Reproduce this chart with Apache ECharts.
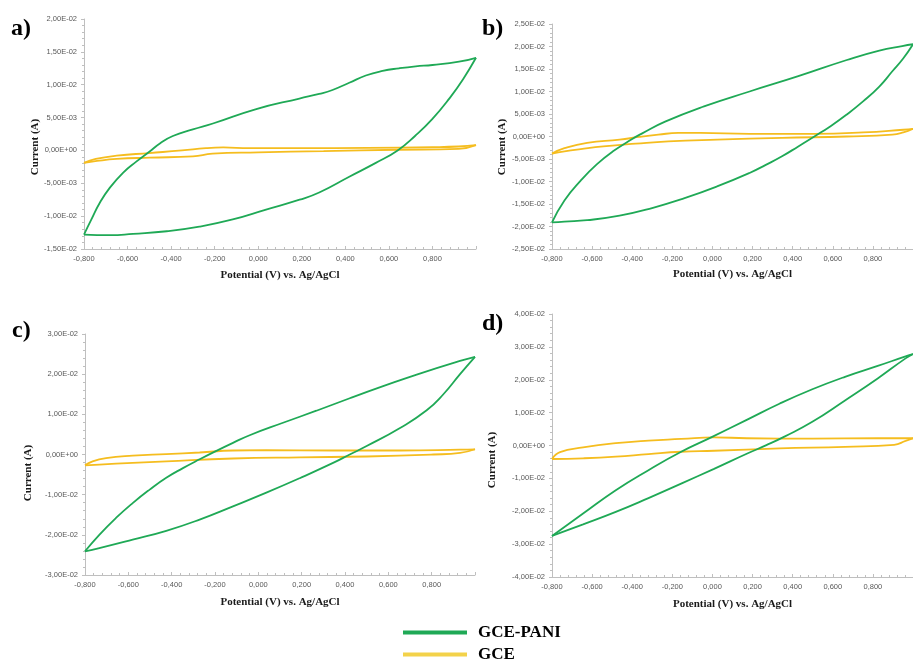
<!DOCTYPE html>
<html>
<head>
<meta charset="utf-8">
<script src="https://cdn.jsdelivr.net/npm/echarts@6/dist/echarts.min.js"></script>
<style>
html,body{margin:0;padding:0;background:#fff;}
#chart{width:913px;height:662px;}
</style>
</head>
<body>
<div id="chart"></div>
<script>
// ---------- DATA: [potential (V), current (A)] ----------
// Panel a)
const aPaniFwd = [[-0.8,-0.0128],[-0.766,-0.0105],[-0.728,-0.0080],[-0.682,-0.0057],[-0.621,-0.0034],[-0.56,-0.0017],[-0.5,-0.0002],[-0.45,0.0011],[-0.392,0.0022],[-0.3,0.0032],[-0.208,0.0041],[-0.009,0.0063],[0.189,0.0079],[0.28,0.0086],[0.341,0.0092],[0.418,0.0103],[0.494,0.0114],[0.571,0.0121],[0.647,0.0125],[0.723,0.0128],[0.8,0.0130],[0.922,0.0135],[1.0,0.0141]];
const aPaniRev = [[-0.8,-0.0128],[-0.68,-0.0129],[-0.575,-0.0127],[-0.42,-0.0123],[-0.27,-0.0116],[-0.117,-0.0105],[0.036,-0.0090],[0.19,-0.0075],[0.28,-0.0064],[0.418,-0.0040],[0.54,-0.0019],[0.64,0.0],[0.72,0.0022],[0.8,0.0048],[0.88,0.0080],[0.94,0.0108],[1.0,0.0141]];
const aGceFwd = [[-0.8,-0.0019],[-0.746,-0.0013],[-0.65,-0.0008],[-0.5,-0.0004],[-0.35,0.0],[-0.24,0.00035],[-0.16,0.00045],[-0.04,0.00035],[0.2,0.00035],[0.5,0.0004],[0.8,0.0005],[0.92,0.0006],[1.0,0.0008]];
const aGceRev = [[-0.8,-0.0019],[-0.74,-0.0016],[-0.65,-0.0013],[-0.5,-0.0011],[-0.3,-0.0009],[-0.21,-0.0005],[0.0,-0.0003],[0.3,-0.0001],[0.64,0.0001],[0.92,0.00025],[1.0,0.0008]];
// Panel b)
const bPaniFwd = [[-0.8,-0.0191],[-0.738,-0.0142],[-0.657,-0.0098],[-0.577,-0.0062],[-0.496,-0.0033],[-0.398,-0.0005],[-0.35,0.0007],[-0.236,0.0033],[-0.042,0.0067],[0.185,0.0100],[0.428,0.0134],[0.67,0.0170],[0.832,0.0191],[0.946,0.0201],[1.0,0.0205]];
const bPaniRev = [[-0.8,-0.0191],[-0.738,-0.0189],[-0.625,-0.0186],[-0.463,-0.0176],[-0.301,-0.0159],[-0.139,-0.0137],[0.023,-0.0111],[0.185,-0.0081],[0.266,-0.0063],[0.347,-0.0044],[0.428,-0.0022],[0.508,0.0],[0.589,0.0023],[0.67,0.0049],[0.751,0.0078],[0.832,0.0111],[0.897,0.0145],[0.952,0.0174],[1.0,0.0205]];
const bGceFwd = [[-0.8,-0.0038],[-0.738,-0.0026],[-0.625,-0.0014],[-0.463,-0.0007],[-0.366,-0.0001],[-0.27,0.0004],[-0.17,0.0008],[-0.06,0.0008],[0.185,0.0006],[0.508,0.0006],[0.751,0.0009],[0.952,0.0015],[1.0,0.0017]];
const bGceRev = [[-0.8,-0.0038],[-0.738,-0.0033],[-0.657,-0.0028],[-0.544,-0.0022],[-0.382,-0.0016],[-0.22,-0.0011],[0.023,-0.0007],[0.347,-0.0003],[0.67,0.0],[0.897,0.0004],[0.952,0.0009],[1.0,0.0017]];
// Panel c)
const cPaniFwd = [[-0.8,-0.0241],[-0.734,-0.0200],[-0.657,-0.0158],[-0.58,-0.0121],[-0.503,-0.0088],[-0.425,-0.0058],[-0.348,-0.0034],[-0.271,-0.0012],[-0.194,0.0009],[-0.117,0.0029],[-0.04,0.0048],[0.114,0.0079],[0.268,0.0109],[0.422,0.0140],[0.576,0.0170],[0.731,0.0199],[0.931,0.0233],[1.0,0.0243]];
const cPaniRev = [[-0.8,-0.0241],[-0.734,-0.0233],[-0.58,-0.0212],[-0.425,-0.0190],[-0.271,-0.0162],[-0.117,-0.0129],[0.037,-0.0095],[0.191,-0.0059],[0.345,-0.0021],[0.422,0.0],[0.5,0.0021],[0.654,0.0066],[0.777,0.0110],[0.854,0.0150],[0.931,0.0200],[1.0,0.0243]];
const cGceFwd = [[-0.8,-0.0027],[-0.765,-0.0017],[-0.703,-0.0009],[-0.58,-0.0003],[-0.425,0.0001],[-0.271,0.0005],[-0.117,0.0010],[0.037,0.0011],[0.345,0.0010],[0.654,0.0010],[0.931,0.0012],[1.0,0.0013]];
const cGceRev = [[-0.8,-0.0027],[-0.734,-0.0025],[-0.58,-0.0021],[-0.425,-0.0017],[-0.117,-0.0010],[0.191,-0.0007],[0.5,-0.0005],[0.808,0.0],[0.931,0.0004],[1.0,0.0013]];
// Panel d)
const dPaniFwd = [[-0.8,-0.0275],[-0.645,-0.0207],[-0.482,-0.0136],[-0.319,-0.0075],[-0.156,-0.0019],[-0.009,0.0024],[0.171,0.0078],[0.334,0.0127],[0.498,0.0171],[0.661,0.0209],[0.824,0.0242],[0.963,0.0271],[1.0,0.0278]];
const dPaniRev = [[-0.8,-0.0275],[-0.645,-0.0240],[-0.482,-0.0202],[-0.319,-0.0160],[-0.156,-0.0116],[0.008,-0.0071],[0.171,-0.0025],[0.269,0.0001],[0.359,0.0027],[0.498,0.0072],[0.661,0.0137],[0.824,0.0204],[0.963,0.0265],[1.0,0.0278]];
const dGceFwd = [[-0.8,-0.0041],[-0.76,-0.0020],[-0.645,-0.0006],[-0.482,0.0007],[-0.319,0.0015],[-0.156,0.0020],[0.008,0.0025],[0.171,0.0022],[0.498,0.0021],[0.824,0.0022],[0.963,0.0022],[1.0,0.0022]];
const dGceRev = [[-0.8,-0.0041],[-0.645,-0.0039],[-0.482,-0.0034],[-0.319,-0.0026],[-0.156,-0.0019],[0.008,-0.0016],[0.334,-0.0009],[0.661,-0.0004],[0.906,0.0002],[0.963,0.0014],[1.0,0.0022]];

const panelLabels = ['a)', 'b)', 'c)', 'd)'];
const seriesNames = ['GCE-PANI', 'GCE'];
const xTitle = 'Potential (V) vs. Ag/AgCl';
const yTitle = 'Current (A)';
const xRange = [-0.8, 1.0, 0.2];
const yRanges = [[-0.015, 0.02, 0.005], [-0.025, 0.025, 0.005], [-0.03, 0.03, 0.01], [-0.04, 0.04, 0.01]];

// ---------- LAYOUT ----------
const GREEN = '#1fa956';
const YELLOW = '#f5bd1f';
const grids = [
  {left: 84, top: 19, width: 392, height: 230},
  {left: 552, top: 24, width: 371, height: 225},
  {left: 85, top: 334, width: 390, height: 241},
  {left: 552, top: 314, width: 367, height: 263}
];
const xNameGaps = [21, 20, 22, 22];
const yTitlePos = [[35, 147], [502, 147], [28, 473], [492, 460]];
const labelPos = [[11, 41], [482, 41], [12, 343], [482, 336]];

function yFmt(v) {
  if (Math.abs(v) < 1e-12) return '0,00E+00';
  const s = v.toExponential(2);
  const parts = s.split('e');
  const e = parseInt(parts[1], 10);
  const sign = e < 0 ? '-' : '+';
  const d = Math.abs(e);
  return parts[0].replace('.', ',') + 'E' + sign + (d < 10 ? '0' + d : d);
}
function xFmt(v) {
  if (Math.abs(v) < 1e-9) return '0,000';
  return v.toFixed(3).replace('.', ',');
}

const axisColor = '#bfbfbf';
const labelStyle = {color: '#595959', fontSize: 7.5, fontFamily: 'Liberation Sans'};
const titleFont = {color: '#1a1a1a', fontSize: 11, fontWeight: 'bold', fontFamily: 'Liberation Serif'};

const xAxes = grids.map((g, i) => ({
  type: 'value', gridIndex: i,
  min: xRange[0], max: xRange[1], interval: xRange[2],
  name: xTitle, nameLocation: 'middle', nameGap: xNameGaps[i],
  nameTextStyle: titleFont,
  axisLine: {onZero: false, lineStyle: {color: axisColor}},
  axisTick: {show: true, inside: true, length: 3, lineStyle: {color: axisColor}},
  minorTick: {show: true, splitNumber: 5, length: 2, lineStyle: {color: axisColor}},
  splitLine: {show: false},
  axisLabel: Object.assign({formatter: xFmt, margin: 6, showMaxLabel: false}, labelStyle)
}));
const yAxes = grids.map((g, i) => ({
  type: 'value', gridIndex: i,
  min: yRanges[i][0], max: yRanges[i][1], interval: yRanges[i][2],
  axisLine: {show: true, onZero: false, lineStyle: {color: axisColor}},
  axisTick: {show: true, length: 3, lineStyle: {color: axisColor}},
  minorTick: {show: true, splitNumber: 5, length: 2, lineStyle: {color: axisColor}},
  splitLine: {show: false},
  axisLabel: Object.assign({formatter: yFmt, margin: 7}, labelStyle)
}));

const panelData = [
  [aPaniFwd, aPaniRev, aGceFwd, aGceRev],
  [bPaniFwd, bPaniRev, bGceFwd, bGceRev],
  [cPaniFwd, cPaniRev, cGceFwd, cGceRev],
  [dPaniFwd, dPaniRev, dGceFwd, dGceRev]
];
const series = [];
panelData.forEach((arrs, i) => {
  arrs.forEach((arr, k) => {
    const isPani = k < 2;
    series.push({
      type: 'line', name: isPani ? seriesNames[0] : seriesNames[1],
      xAxisIndex: i, yAxisIndex: i, data: arr,
      smooth: 0.5, showSymbol: false, symbol: 'none',
      lineStyle: {color: isPani ? GREEN : YELLOW, width: 1.8},
      itemStyle: {color: isPani ? GREEN : YELLOW},
      z: isPani ? 3 : 2
    });
  });
});

const graphics = [];
yTitlePos.forEach(p => {
  graphics.push({type: 'text', x: p[0], y: p[1], rotation: Math.PI / 2,
    style: {text: yTitle, x: 0, y: 0, align: 'center', verticalAlign: 'middle',
      fill: '#1a1a1a', font: 'bold 11px "Liberation Serif"'}});
});
labelPos.forEach((p, i) => {
  graphics.push({type: 'text', x: p[0], y: p[1],
    style: {text: panelLabels[i], x: 0, y: 0, align: 'left', verticalAlign: 'bottom',
      fill: '#000', font: 'bold 24px "Liberation Serif"'}});
});

const legendText = {color: '#000', fontSize: 17, fontWeight: 'bold', fontFamily: 'Liberation Serif', padding: [0, 0, 0, 6]};
const chart = echarts.init(document.getElementById('chart'), null, {renderer: 'canvas'});
chart.setOption({
  animation: false,
  backgroundColor: '#ffffff',
  grid: grids,
  xAxis: xAxes,
  yAxis: yAxes,
  legend: [
    {left: 398, top: 619, itemWidth: 64, itemHeight: 4, icon: 'rect', textStyle: legendText,
     data: [{name: seriesNames[0], itemStyle: {color: GREEN}}]},
    {left: 398, top: 641, itemWidth: 64, itemHeight: 4, icon: 'rect', textStyle: legendText,
     data: [{name: seriesNames[1], itemStyle: {color: '#f3d24a'}}]}
  ],
  graphic: graphics,
  series: series
});
</script>
</body>
</html>
